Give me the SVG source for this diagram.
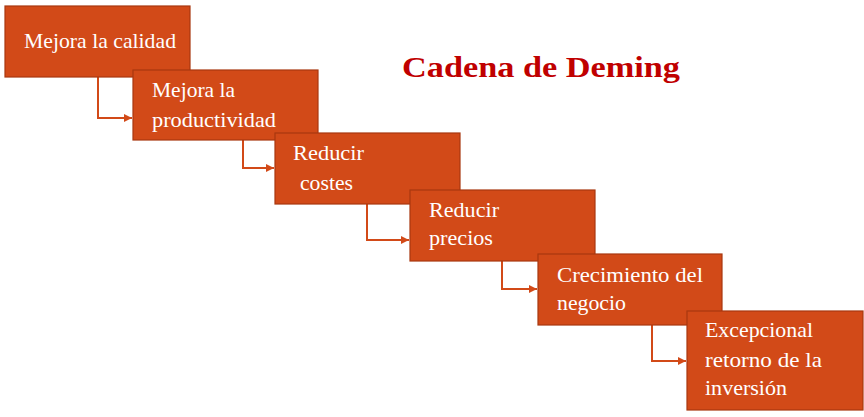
<svg xmlns="http://www.w3.org/2000/svg" width="864" height="417" viewBox="0 0 864 417">
<defs>
<style>
.box{fill:#D24A18;stroke:#A8380F;stroke-width:1.2}
.t{font-family:"Liberation Serif","DejaVu Serif",serif;font-size:21px;fill:#FFFFFF}
.title{font-family:"Liberation Serif","DejaVu Serif",serif;font-size:30px;font-weight:bold;fill:#C00000}
.c{fill:none;stroke:#D24A18;stroke-width:2}
</style>
<marker id="arr" viewBox="0 0 10 10" refX="10" refY="5" markerWidth="4" markerHeight="4" orient="auto" markerUnits="strokeWidth">
<path d="M0,0 L10,5 L0,10 z" fill="#D24A18"/>
</marker>
</defs>
<rect width="864" height="417" fill="#FFFFFF"/>
<text class="title" x="402" y="77" textLength="278" lengthAdjust="spacingAndGlyphs">Cadena de Deming</text>
<g id="connectors">
<path class="c" d="M98,77 V118 H132" marker-end="url(#arr)"/>
<path class="c" d="M243,140 V168 H274" marker-end="url(#arr)"/>
<path class="c" d="M367,204 V240 H409" marker-end="url(#arr)"/>
<path class="c" d="M502,261 V289 H537" marker-end="url(#arr)"/>
<path class="c" d="M652,325 V361 H686" marker-end="url(#arr)"/>
</g>
<g id="n1">
<rect class="box" x="5" y="6" width="185" height="71"/>
<text class="t" x="24" y="48" textLength="152" lengthAdjust="spacingAndGlyphs">Mejora la calidad</text>
</g>
<g id="n2">
<rect class="box" x="133" y="70" width="185" height="70"/>
<text class="t" x="152" y="97" textLength="83" lengthAdjust="spacingAndGlyphs">Mejora la</text>
<text class="t" x="152" y="127" textLength="124" lengthAdjust="spacingAndGlyphs">productividad</text>
</g>
<g id="n3">
<rect class="box" x="275" y="133" width="185" height="71"/>
<text class="t" x="293" y="160" textLength="71" lengthAdjust="spacingAndGlyphs">Reducir</text>
<text class="t" x="300" y="190" textLength="53" lengthAdjust="spacingAndGlyphs">costes</text>
</g>
<g id="n4">
<rect class="box" x="410" y="190" width="185" height="71"/>
<text class="t" x="429" y="217" textLength="70" lengthAdjust="spacingAndGlyphs">Reducir</text>
<text class="t" x="429" y="245" textLength="64" lengthAdjust="spacingAndGlyphs">precios</text>
</g>
<g id="n5">
<rect class="box" x="538" y="254" width="184" height="71"/>
<text class="t" x="557" y="282" textLength="146" lengthAdjust="spacingAndGlyphs">Crecimiento del</text>
<text class="t" x="557" y="310" textLength="69" lengthAdjust="spacingAndGlyphs">negocio</text>
</g>
<g id="n6">
<rect class="box" x="687" y="311" width="176" height="99"/>
<text class="t" x="705" y="337" textLength="108" lengthAdjust="spacingAndGlyphs">Excepcional</text>
<text class="t" x="705" y="367" textLength="117" lengthAdjust="spacingAndGlyphs">retorno de la</text>
<text class="t" x="705" y="395" textLength="82" lengthAdjust="spacingAndGlyphs">inversión</text>
</g>
</svg>
